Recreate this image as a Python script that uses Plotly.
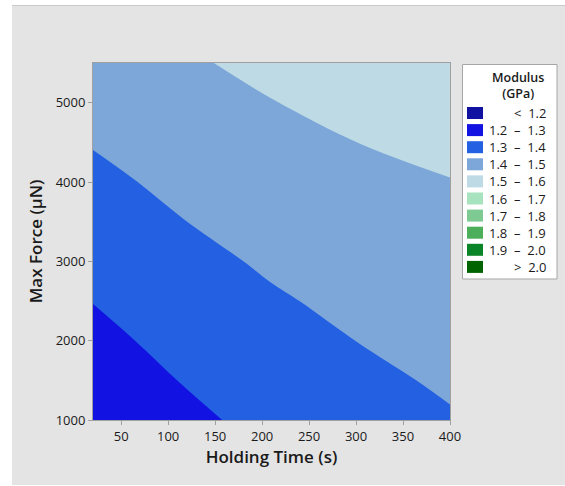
import plotly.graph_objects as go

# ---- data ----
holding_time = [20, 115, 210, 305, 400]                                  # s
max_force = [1000, 1500, 2000, 2500, 3000, 3500, 4000, 4500, 5000, 5500]  # µN
# modulus (GPa): one row per max_force value, one column per holding_time value
modulus = [
    [1.225, 1.279, 1.326, 1.362, 1.393],
    [1.250, 1.303, 1.347, 1.382, 1.411],
    [1.276, 1.327, 1.369, 1.402, 1.428],
    [1.302, 1.351, 1.390, 1.422, 1.446],
    [1.328, 1.374, 1.412, 1.441, 1.463],
    [1.353, 1.398, 1.433, 1.461, 1.481],
    [1.379, 1.421, 1.455, 1.481, 1.498],
    [1.405, 1.444, 1.477, 1.501, 1.516],
    [1.431, 1.466, 1.498, 1.520, 1.533],
    [1.456, 1.489, 1.520, 1.540, 1.551],
]
level_labels = ["<  1.2", "1.2  –  1.3", "1.3  –  1.4", "1.4  –  1.5", "1.5  –  1.6",
                "1.6  –  1.7", "1.7  –  1.8", "1.8  –  1.9", "1.9  –  2.0", ">  2.0"]
level_colors = ["#1212A2", "#1212E2", "#2360E2", "#7CA7D8", "#BDDAE5",
                "#A8E3BF", "#7DCB93", "#4DAE5C", "#0A8427", "#006400"]
x_ticks = [50, 100, 150, 200, 250, 300, 350, 400]
y_ticks = [1000, 2000, 3000, 4000, 5000]
legend_title = "Modulus<br>(GPa)"

FONT = "Open Sans, Noto Sans, sans-serif"
TXT = "#1A1A1A"
n = len(level_colors)
colorscale = [[i / (n - 1), c] for i, c in enumerate(level_colors)]

fig = go.Figure()
fig.add_trace(go.Contour(
    x=holding_time, y=max_force, z=modulus,
    autocontour=False,
    contours=dict(start=1.2, end=2.0, size=0.1, coloring="fill", showlines=False),
    colorscale=colorscale, showscale=False, line=dict(width=0),
    hoverinfo="skip",
))

W, H = 565, 486
L, R, T, B = 93, 115, 63, 66
pw, ph = W - L - R, H - T - B


def px(x):
    return (x - L) / pw


def py(y):
    return (H - B - y) / ph


shapes = [
    # grey panel behind the chart
    dict(type="rect", xref="paper", yref="paper", layer="below",
         x0=px(12), x1=px(W + 2), y0=py(485), y1=py(5),
         fillcolor="#E4E4E4", line=dict(width=0)),
    dict(type="line", xref="paper", yref="paper", layer="below",
         x0=px(12), x1=px(W + 2), y0=py(5.5), y1=py(5.5),
         line=dict(color="#CACACA", width=1)),
    # legend box
    dict(type="rect", xref="paper", yref="paper", layer="above",
         x0=px(462.5), x1=px(557), y0=py(279), y1=py(64.5),
         fillcolor="white", line=dict(color="#A6A6A6", width=1)),
]
annotations = [
    dict(xref="paper", yref="paper", x=px(518), y=py(85), xanchor="center", yanchor="middle",
         text=legend_title, showarrow=False, align="center",
         font=dict(family=FONT, size=12.5, color=TXT, weight=600)),
]
row0, step = 113, 17.1
for i, (lab, col) in enumerate(zip(level_labels, level_colors)):
    yc = row0 + step * i
    shapes.append(dict(type="rect", xref="paper", yref="paper", layer="above",
                       x0=px(467), x1=px(483), y0=py(yc + 6), y1=py(yc - 6),
                       fillcolor=col, line=dict(width=0)))
    annotations.append(dict(xref="paper", yref="paper", x=px(548), y=py(yc),
                            xanchor="right", yanchor="middle", showarrow=False,
                            text=lab.replace(" ", "\u00a0"),
                            font=dict(family=FONT, size=13, color=TXT)))

fig.update_layout(
    width=W, height=H,
    margin=dict(l=L, r=R, t=T, b=B, pad=0),
    paper_bgcolor="white", plot_bgcolor="#E4E4E4",
    font=dict(family=FONT, size=13, color=TXT),
    showlegend=False,
    xaxis=dict(
        title=dict(text="Holding Time (s)", font=dict(size=17, weight=600), standoff=6),
        range=[20, 400], tickvals=x_ticks, ticks="outside", ticklen=4,
        tickcolor="#A0A0A0", showline=True, linecolor="#A0A0A0", linewidth=1,
        mirror=True, showgrid=False, zeroline=False,
    ),
    yaxis=dict(
        title=dict(text="Max Force (µN)", font=dict(size=17, weight=600), standoff=8),
        range=[1000, 5500], tickvals=y_ticks, ticks="outside", ticklen=4,
        tickcolor="#A0A0A0", showline=True, linecolor="#A0A0A0", linewidth=1,
        mirror=True, showgrid=False, zeroline=False,
    ),
    shapes=shapes,
    annotations=annotations,
)

fig.write_html("out.html", config={"displayModeBar": False},
               post_script="document.body.style.margin='0';")
